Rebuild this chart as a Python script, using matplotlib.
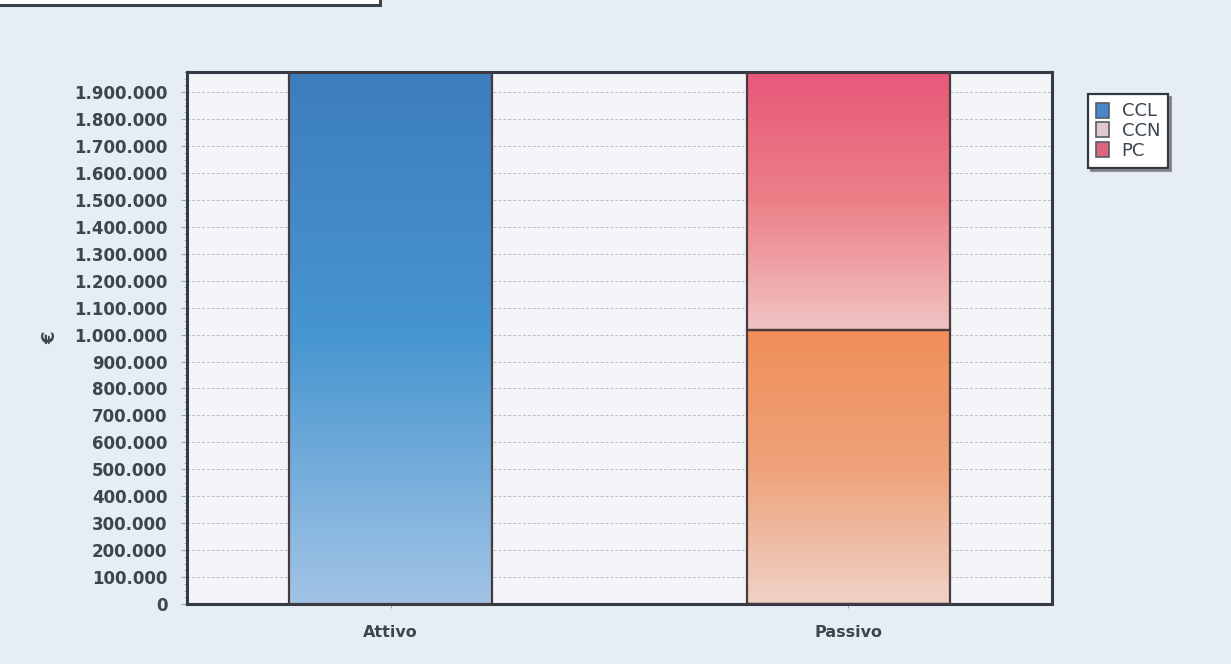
import numpy as np
import matplotlib
matplotlib.use("Agg")
import matplotlib.pyplot as plt
from matplotlib.patches import Patch, Rectangle
from matplotlib.colors import LinearSegmentedColormap
from matplotlib.ticker import FuncFormatter, MultipleLocator

# -------------------------------------
# Data
# -------------------------------------
categories = ["Attivo", "Passivo"]
ccl = [1975000, 0]
ccn = [0, 1018000]
pc = [0, 957000]
y_ticks = list(range(0, 2000000, 100000))
legend_labels = ["CCL", "CCN", "PC"]

# gradient colours (top -> bottom) for each segment
grad_ccl = ["#3d7dbd", "#4796d0", "#a2c4e6"]
grad_ccn = ["#f08e58", "#eea27a", "#efd2c6"]
grad_pc = ["#e8587a", "#ec8088", "#f1c4c4"]
legend_colors = ["#4a86c8", "#e2c8cc", "#dc6680"]

TEXT = "#3b4650"


def thousands(v, pos):
    return f"{int(v):,}".replace(",", ".")


def gradient_fill(ax, patch, colors):
    """Paint a vertical gradient inside a bar patch."""
    x, y = patch.get_x(), patch.get_y()
    w, h = patch.get_width(), patch.get_height()
    if h <= 0:
        return
    cmap = LinearSegmentedColormap.from_list("g", colors[::-1])
    grad = np.linspace(0, 1, 256).reshape(-1, 1)
    im = ax.imshow(grad, cmap=cmap, origin="lower", aspect="auto",
                   extent=(x, x + w, y, y + h), zorder=2, interpolation="bicubic")
    im.set_clip_path(patch)


fig = plt.figure(figsize=(12.31, 6.64), dpi=100)
fig.patch.set_facecolor("#e7edf4")
ax = fig.add_axes([0.1519, 0.0904, 0.7027, 0.8012])
ax.set_facecolor("#f3f5f9")

x = np.arange(len(categories))
width = 0.443

layers = [(ccl, grad_ccl), (ccn, grad_ccn), (pc, grad_pc)]
bottom = np.zeros(len(categories))
for values, grad in layers:
    bars = ax.bar(x, values, width, bottom=bottom, facecolor="none",
                  edgecolor="#4a3a3e", linewidth=1.6, zorder=3)
    for patch in bars:
        gradient_fill(ax, patch, grad)
    bottom += np.array(values)

ax.set_xlim(-0.445, 1.445)
ax.set_ylim(0, 1975000)
ax.set_xticks(x)
ax.set_xticklabels(categories, fontsize=11.5, fontweight="bold", color=TEXT)
ax.set_yticks(y_ticks)
ax.yaxis.set_major_formatter(FuncFormatter(thousands))
ax.yaxis.set_minor_locator(MultipleLocator(25000))
ax.tick_params(axis="y", labelsize=12, colors="#9aa4ae", labelcolor=TEXT,
               length=4, width=0.8, pad=10)
ax.tick_params(axis="y", which="minor", length=2, colors="#9aa4ae")
ax.tick_params(axis="x", length=3, colors="#9aa4ae", labelcolor=TEXT, pad=12)
for lbl in ax.get_yticklabels():
    lbl.set_fontweight("bold")

ax.grid(axis="y", color="#b9bfc6", linestyle=(0, (3, 2)), linewidth=0.7, zorder=0)
ax.set_axisbelow(True)
for sp in ax.spines.values():
    sp.set_color("#333c44")
    sp.set_linewidth(2.2)

ax.set_ylabel("€", fontsize=13, fontweight="bold", color=TEXT)
ax.yaxis.set_label_coords(-0.148, 0.5)

handles = [Patch(facecolor=c, edgecolor="#555d66", linewidth=1.2) for c in legend_colors]
leg = fig.legend(handles, legend_labels, loc="upper left",
                 bbox_to_anchor=(0.884, 0.858), fontsize=13, frameon=True,
                 fancybox=False, shadow=True, handlelength=0.7, handleheight=0.9,
                 handletextpad=0.7, labelspacing=0.1, borderpad=0.45,
                 borderaxespad=0)
leg.get_frame().set_edgecolor("#2f373f")
leg.get_frame().set_linewidth(1.6)
for t in leg.get_texts():
    t.set_color(TEXT)

# partial box at the top-left corner
fig.patches.append(Rectangle((-0.01, 0.992), 0.319, 0.05, transform=fig.transFigure,
                             facecolor="white", edgecolor="#3a424a", linewidth=2.2))

fig.savefig("out.png", dpi=100, facecolor=fig.get_facecolor())
